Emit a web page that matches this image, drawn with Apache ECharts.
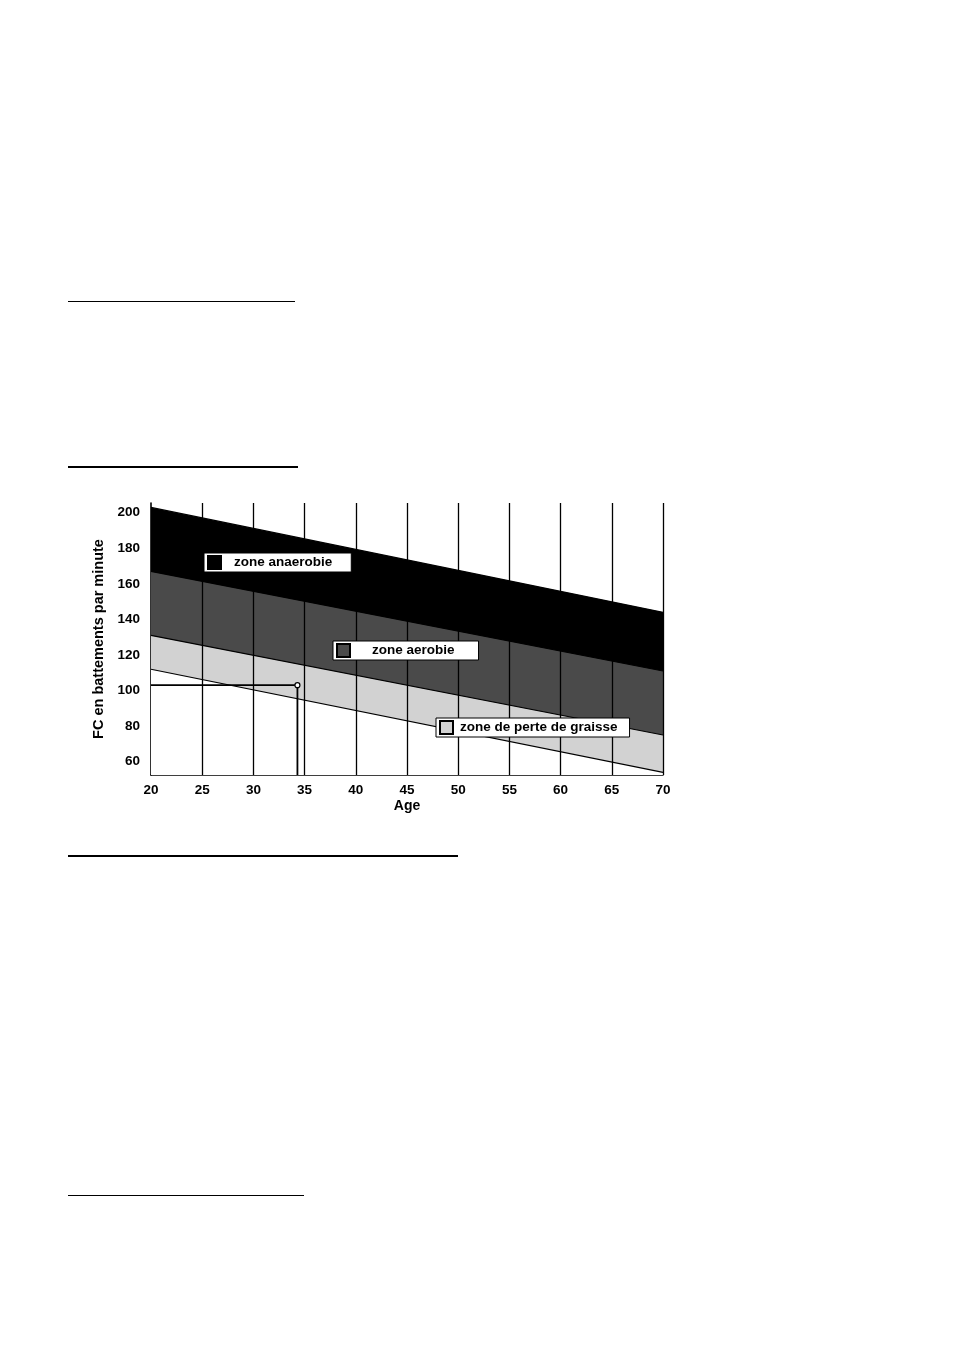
<!DOCTYPE html>
<html>
<head>
<meta charset="utf-8">
<script src="https://cdn.jsdelivr.net/npm/echarts@6/dist/echarts.min.js"></script>
<style>
  html, body { margin: 0; padding: 0; background: #fff; }
  #page { position: relative; width: 954px; height: 1351px; }
  #chart { position: absolute; left: 0; top: 0; width: 954px; height: 1351px; }
  .rule { position: absolute; left: 68px; background: #000; }
</style>
</head>
<body>
<div id="page">
  <div id="chart"></div>
  <div class="rule" style="top:301px;width:227px;height:1px"></div>
  <div class="rule" style="top:466px;width:230px;height:2px"></div>
  <div class="rule" style="top:855px;width:390px;height:2px"></div>
  <div class="rule" style="top:1195px;width:236px;height:1px"></div>
</div>
<script>
// ages at the two ends of the bands
var ages = [20, 70];
// band edges, battements par minute
var maxLine = [203, 144];       // haut de la zone anaerobie
var anaerobieBas = [167, 111];  // limite anaerobie / aerobie
var aerobieBas = [131, 75];     // limite aerobie / perte de graisse
var graisseBas = [112, 54];     // bas de la zone de perte de graisse
var yTicks = [60, 80, 100, 120, 140, 160, 180, 200];
var gridAges = [25, 30, 35, 40, 45, 50, 55, 60, 65, 70];
// exemple: 34 ans, 103 bpm
var exAge = 34.3;
var exFc = 103;

function pairs(vals) {
    var out = [];
    for (var i = 0; i < ages.length; i++) out.push([ages[i], vals[i]]);
    return out;
}

var font = 'Liberation Sans, Arial, sans-serif';
var chart = echarts.init(document.getElementById('chart'));

function zone(name, vals, color, z) {
    return {
        name: name,
        type: 'line',
        data: pairs(vals),
        symbol: 'none',
        z: z,
        itemStyle: { color: color, borderColor: '#000', borderWidth: 1 },
        lineStyle: { color: '#000', width: 1.2 },
        areaStyle: { color: color, opacity: 1, origin: 'start' },
        animation: false
    };
}

// white label boxes with a small swatch
function box(name, left, top, padLeft, padRight) {
    return {
        data: [name],
        left: left,
        top: top,
        z: 20,
        orient: 'horizontal',
        backgroundColor: '#fff',
        borderColor: '#000',
        borderWidth: 1,
        borderRadius: 0,
        padding: [2, padRight, 2, 3],
        icon: 'rect',
        itemWidth: 13,
        itemHeight: 13,
        selectedMode: false,
        formatter: '{t|{name}}',
        textStyle: {
            rich: {
                t: { fontFamily: font, fontWeight: 'bold', fontSize: 13.5, color: '#000', padding: [0, 0, 0, padLeft] }
            }
        }
    };
}

var exData = [[ages[0], exFc], { value: [exAge, exFc], symbol: 'circle', symbolSize: 5 }, [exAge, 52.5]];

chart.setOption({
    animation: false,
    grid: { left: 151, right: 291, top: 503, height: 272 },
    legend: [
        box('zone anaerobie', 204, 553, 8, 19),
        box('zone aerobie', 333, 641, 17, 24),
        box('zone de perte de graisse', 436, 718, 2, 12)
    ],
    xAxis: {
        type: 'value',
        min: 20,
        max: 70,
        interval: 5,
        name: 'Age',
        nameLocation: 'middle',
        nameGap: 24,
        nameTextStyle: { fontFamily: font, fontWeight: 'bold', fontSize: 14, color: '#000' },
        axisLine: { lineStyle: { color: '#000', width: 1.6 } },
        axisTick: { show: false },
        splitLine: { show: false },
        axisLabel: { fontFamily: font, fontWeight: 'bold', fontSize: 13.5, color: '#000', margin: 8 }
    },
    yAxis: {
        type: 'value',
        min: 52.5,
        max: 205.5,
        name: 'FC en battements par minute',
        nameLocation: 'middle',
        nameGap: 45,
        nameTextStyle: { fontFamily: font, fontWeight: 'bold', fontSize: 14.5, color: '#000' },
        axisLine: { show: true, lineStyle: { color: '#000', width: 1.6 } },
        axisTick: { show: false },
        splitLine: { show: false },
        axisLabel: {
            fontFamily: font, fontWeight: 'bold', fontSize: 13.5, color: '#000', margin: 11,
            customValues: yTicks
        }
    },
    series: [
        zone('zone anaerobie', maxLine, '#000000', 1),
        zone('zone aerobie', anaerobieBas, '#4a4a4a', 2),
        zone('zone de perte de graisse', aerobieBas, '#d2d2d2', 3),
        {
            name: 'fond',
            type: 'line',
            data: pairs(graisseBas),
            symbol: 'none',
            z: 4,
            lineStyle: { color: '#000', width: 1.2 },
            areaStyle: { color: '#fff', opacity: 1, origin: 'start' },
            animation: false
        },
        {
            name: 'exemple',
            type: 'line',
            data: exData,
            symbol: 'none',
            z: 6,
            itemStyle: { color: '#fff', borderColor: '#000', borderWidth: 1.2 },
            lineStyle: { color: '#000', width: 1.8 },
            markLine: {
                silent: true,
                symbol: 'none',
                label: { show: false },
                lineStyle: { color: '#000', width: 1.3, type: 'solid' },
                data: gridAges.map(function (a) { return { xAxis: a }; })
            },
            animation: false
        }
    ]
});
</script>
</body>
</html>
